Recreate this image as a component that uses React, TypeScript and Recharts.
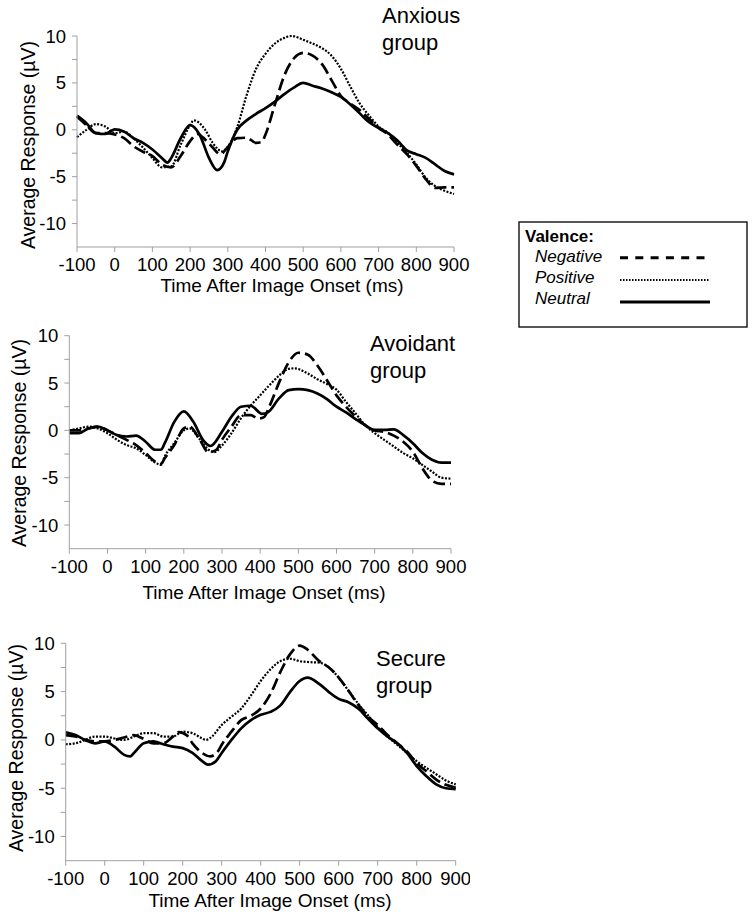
import React from 'react';
import { LineChart, Line, XAxis, YAxis } from 'recharts';

const FONT = '"Liberation Sans", Arial, Helvetica, sans-serif';

const timeTicks = [-100, 0, 100, 200, 300, 400, 500, 600, 700, 800, 900];
const responseTicks = [-10, -7.5, -5, -2.5, 0, 2.5, 5, 7.5, 10];
const groupNames = ['Anxious', 'Avoidant', 'Secure'];
const valenceNames = ['Negative', 'Positive', 'Neutral'];

type P = [number, number][];

const anxiousNegative: P = [[-100,1.4],[-75,0.5],[-50,-0.35],[-25,-0.35],[0,-0.5],[25,-0.9],[50,-1.75],[75,-2.35],[100,-2.8],[125,-3.7],[150,-4.0],[175,-2.8],[200,-1.2],[220,-0.45],[240,-1.05],[260,-1.9],[280,-2.6],[300,-1.85],[325,-0.9],[350,-0.85],[375,-1.4],[390,-1.3],[400,-0.5],[425,2.7],[450,5.8],[475,7.6],[500,8.2],[525,7.9],[550,7.0],[575,5.3],[600,3.6],[625,2.8],[650,2.1],[675,1.15],[700,0.2],[725,-0.5],[750,-1.6],[775,-2.6],[800,-3.85],[825,-5.25],[850,-6.2],[875,-6.15],[900,-6.15]];
const anxiousPositive: P = [[-100,-0.8],[-75,0],[-50,0.6],[-25,0.35],[0,-0.35],[25,-0.2],[50,-0.9],[75,-1.9],[100,-3.0],[125,-4.0],[150,-3.9],[175,-1.6],[200,0.5],[210,1.0],[240,0],[260,-1.4],[285,-2.3],[300,-1.8],[325,0.3],[350,3.7],[375,6.5],[400,8.1],[425,9.2],[450,9.8],[470,10.0],[500,9.6],[525,9.2],[550,8.7],[575,7.9],[600,6.5],[625,4.6],[650,2.8],[675,1.5],[700,0.35],[725,-0.35],[750,-1.4],[775,-2.45],[800,-3.7],[825,-5.1],[850,-6.0],[875,-6.5],[900,-6.85]];
const anxiousNeutral: P = [[-100,1.5],[-75,0.7],[-50,-0.35],[-25,-0.45],[0,0.05],[25,-0.2],[50,-0.9],[75,-1.4],[100,-2.1],[125,-3.0],[140,-3.5],[150,-3.0],[175,-0.9],[200,0.5],[225,-0.5],[250,-3.0],[272,-4.3],[290,-3.5],[300,-2.3],[325,0],[350,1.0],[375,1.7],[400,2.3],[425,3.0],[450,3.8],[475,4.5],[500,5.0],[525,4.7],[550,4.4],[575,4.0],[600,3.5],[625,2.7],[650,1.75],[675,0.8],[700,0.2],[725,-0.35],[750,-1.15],[775,-2.2],[800,-2.6],[825,-3.0],[850,-3.7],[875,-4.4],[900,-4.75]];

const avoidantNegative: P = [[-100,0],[-75,0],[-50,0.2],[-25,0.4],[0,0],[25,-0.5],[50,-1.0],[75,-1.55],[100,-2.4],[125,-3.3],[140,-3.55],[150,-2.95],[175,-1.55],[200,0.2],[215,0.4],[240,-0.85],[265,-2.3],[285,-2.05],[300,-1.0],[325,0.4],[350,1.6],[375,1.6],[395,1.25],[410,1.4],[425,2.6],[450,5.1],[475,7.2],[500,8.2],[525,8.0],[550,6.85],[575,5.3],[600,3.7],[625,2.5],[650,1.45],[675,0.55],[700,0],[725,-0.15],[750,-0.55],[775,-1.2],[800,-2.25],[825,-4.0],[850,-5.3],[875,-5.65],[900,-5.65]];
const avoidantPositive: P = [[-100,0],[-75,0.2],[-50,0.4],[-25,0.2],[0,-0.3],[25,-1.0],[50,-1.55],[75,-1.9],[100,-2.6],[125,-3.4],[140,-3.65],[150,-2.75],[175,-1.35],[200,0],[215,0.2],[240,-0.85],[265,-2.05],[280,-2.3],[300,-1.6],[325,-0.3],[350,1.3],[375,2.6],[400,3.7],[425,4.8],[450,5.8],[475,6.5],[490,6.55],[525,6.0],[550,5.4],[575,4.9],[600,4.3],[625,3.0],[650,1.8],[675,0.55],[700,-0.3],[725,-1.0],[750,-1.7],[775,-2.4],[800,-2.95],[825,-3.65],[850,-4.35],[875,-5.0],[900,-5.1]];
const avoidantNeutral: P = [[-100,-0.3],[-75,-0.3],[-50,0.2],[-25,0.4],[0,0],[25,-0.5],[50,-0.65],[75,-0.55],[100,-1.2],[125,-2.05],[140,-2.05],[150,-1.35],[175,0.9],[200,2.0],[225,0.9],[250,-1.0],[270,-1.65],[300,-0.15],[325,1.45],[350,2.5],[375,2.6],[405,1.75],[420,1.9],[450,3.4],[475,4.25],[500,4.35],[550,3.9],[575,3.3],[600,2.5],[625,1.9],[650,1.2],[675,0.55],[700,0.05],[725,0.05],[750,0.1],[775,-0.5],[800,-1.35],[825,-2.4],[850,-3.1],[875,-3.4],[900,-3.4]];

const secureNegative: P = [[-100,0.5],[-75,0.35],[-50,0],[-25,-0.15],[0,-0.15],[25,0],[50,0.25],[75,0.5],[100,0.1],[125,-0.35],[150,-0.35],[175,0.35],[190,0.8],[210,0.5],[225,-0.35],[250,-1.35],[270,-1.7],[290,-1.2],[300,-0.5],[325,0.85],[350,2.05],[375,2.5],[400,3.25],[425,4.75],[450,7.0],[475,8.85],[500,9.75],[520,9.35],[550,8.15],[575,7.5],[600,6.45],[625,5.1],[650,3.65],[675,2.4],[700,1.55],[725,0.5],[750,-0.35],[775,-1.2],[800,-2.4],[825,-3.25],[850,-4.1],[875,-4.65],[900,-4.95]];
const securePositive: P = [[-100,-0.45],[-75,-0.35],[-50,0],[-25,0.35],[0,0.35],[25,0.15],[50,0],[75,0.35],[100,0.7],[125,0.7],[150,0.35],[175,0.35],[200,0.85],[225,0.7],[250,0.15],[260,0],[275,0.35],[300,1.55],[325,2.4],[350,3.25],[375,4.6],[400,6.1],[425,7.3],[450,8.15],[475,8.4],[500,8.15],[525,8.05],[550,8.0],[575,7.5],[600,6.45],[625,5.1],[650,3.75],[675,2.55],[700,1.35],[725,0.35],[750,-0.5],[775,-1.35],[800,-2.2],[825,-2.9],[850,-3.55],[875,-4.2],[900,-4.6]];
const secureNeutral: P = [[-100,0.8],[-75,0.5],[-50,0],[-25,-0.35],[0,-0.15],[25,-0.7],[50,-1.55],[65,-1.7],[75,-1.35],[100,-0.35],[125,-0.15],[150,-0.45],[175,-0.7],[200,-0.85],[225,-1.35],[250,-2.2],[265,-2.55],[285,-2.2],[300,-1.35],[325,0],[350,1.2],[375,2.05],[400,2.6],[425,2.9],[450,3.55],[475,4.95],[500,6.1],[520,6.45],[550,5.8],[575,4.95],[600,4.25],[625,3.9],[650,3.25],[675,2.2],[700,1.2],[725,0.35],[750,-0.35],[775,-1.35],[800,-2.7],[825,-3.75],[850,-4.6],[875,-5.0],[900,-5.1]];

const groupSeries: P[][] = [
  [anxiousNegative, anxiousPositive, anxiousNeutral],
  [avoidantNegative, avoidantPositive, avoidantNeutral],
  [secureNegative, securePositive, secureNeutral],
];

const panels = [
  { top: 0, height: 300, width: 470, mTop: 36, mRight: 16, yW: 77, xH: 53, xTitleX: 282, xTitleY: 292, yTitleX: 35, yTitleY: 145, groupX: 382, groupY: 23 },
  { top: 300, height: 310, width: 470, mTop: 35.7, mRight: 19, yW: 69.3, xH: 61.3, xTitleX: 264, xTitleY: 599, yTitleX: 26, yTitleY: 443, groupX: 370, groupY: 351 },
  { top: 610, height: 309, width: 470, mTop: 33.3, mRight: 14.3, yW: 65.7, xH: 58.3, xTitleX: 270, xTitleY: 907, yTitleX: 23, yTitleY: 748, groupX: 376, groupY: 666 },
];

const lineStyles = [
  { strokeWidth: 2.7, strokeDasharray: '12 5' },
  { strokeWidth: 2.2, strokeDasharray: '2 1.5' },
  { strokeWidth: 2.7, strokeDasharray: undefined as string | undefined },
];

const AXIS = '#a0a0a0';
const toPoints = (pairs: P) => pairs.map(([t, v]) => ({ t, v }));

function Panel({ idx }: { idx: number }) {
  const c = panels[idx];
  const series = groupSeries[idx];
  return (
    <div style={{ position: 'absolute', left: 0, top: c.top }}>
      <LineChart width={c.width} height={c.height} margin={{ top: c.mTop, right: c.mRight, left: 0, bottom: 0 }}>
        <XAxis
          dataKey="t"
          type="number"
          domain={[-100, 900]}
          ticks={timeTicks}
          height={c.xH}
          interval={0}
          stroke={AXIS}
          tickSize={5}
          tickMargin={6}
          tick={{ fill: '#000', fontSize: 18.5, fontFamily: FONT }}
          label={() => (
            <text x={c.xTitleX} y={c.xTitleY - c.top} textAnchor="middle" fontSize={19} fontFamily={FONT} fill="#000">
              Time After Image Onset (ms)
            </text>
          )}
        />
        <YAxis
          type="number"
          domain={[-12.5, 10]}
          ticks={responseTicks}
          width={c.yW}
          interval={0}
          stroke={AXIS}
          tickSize={5}
          tickMargin={6}
          tick={{ fill: '#000', fontSize: 18.5, fontFamily: FONT }}
          tickFormatter={(v: number) => (v % 5 === 0 ? String(v) : '')}
          label={() => (
            <text
              x={c.yTitleX}
              y={c.yTitleY - c.top}
              transform={`rotate(-90 ${c.yTitleX} ${c.yTitleY - c.top})`}
              textAnchor="middle"
              fontSize={19.5}
              fontFamily={FONT}
              fill="#000"
            >
              Average Response (µV)
            </text>
          )}
        />
        {series.map((s, i) => (
          <Line
            key={valenceNames[i]}
            name={valenceNames[i]}
            data={toPoints(s)}
            dataKey="v"
            type="monotone"
            stroke="#000"
            strokeWidth={lineStyles[i].strokeWidth}
            strokeDasharray={lineStyles[i].strokeDasharray}
            dot={false}
            activeDot={false}
            isAnimationActive={false}
          />
        ))}
      </LineChart>
    </div>
  );
}

function ValenceLegend() {
  const rows = [39.7, 61, 82];
  const lineY = [35.7, 58, 80];
  return (
    <svg width={230} height={107} style={{ position: 'absolute', left: 518, top: 221 }}>
      <rect x={1} y={1} width={228} height={105} fill="#fff" stroke="#111" strokeWidth={1.4} />
      <text x={7} y={20.7} fontSize={17} fontWeight="bold" fontFamily={FONT} fill="#000">Valence:</text>
      {valenceNames.map((n, i) => (
        <g key={n}>
          <text x={17} y={rows[i] + 1} fontSize={17} fontStyle="italic" fontFamily={FONT} fill="#000">{n}</text>
          <line
            x1={102}
            x2={192}
            y1={lineY[i] + 1}
            y2={lineY[i] + 1}
            stroke="#000"
            strokeWidth={i === 1 ? 2 : 3}
            strokeDasharray={i === 0 ? '8 7.3' : i === 1 ? '1.5 1.5' : undefined}
          />
        </g>
      ))}
    </svg>
  );
}

export default function App() {
  return (
    <div style={{ position: 'absolute', left: 0, top: 0, width: 754, height: 919, background: '#fff' }}>
      {panels.map((_, i) => (
        <Panel key={groupNames[i]} idx={i} />
      ))}
      <svg width={754} height={919} style={{ position: 'absolute', left: 0, top: 0, pointerEvents: 'none' }}>
        {panels.map((c, i) => (
          <text key={groupNames[i]} fontSize={22} fontFamily={FONT} fill="#000">
            <tspan x={c.groupX} y={c.groupY}>{groupNames[i]}</tspan>
            <tspan x={c.groupX} y={c.groupY + 27}>group</tspan>
          </text>
        ))}
      </svg>
      <ValenceLegend />
    </div>
  );
}
